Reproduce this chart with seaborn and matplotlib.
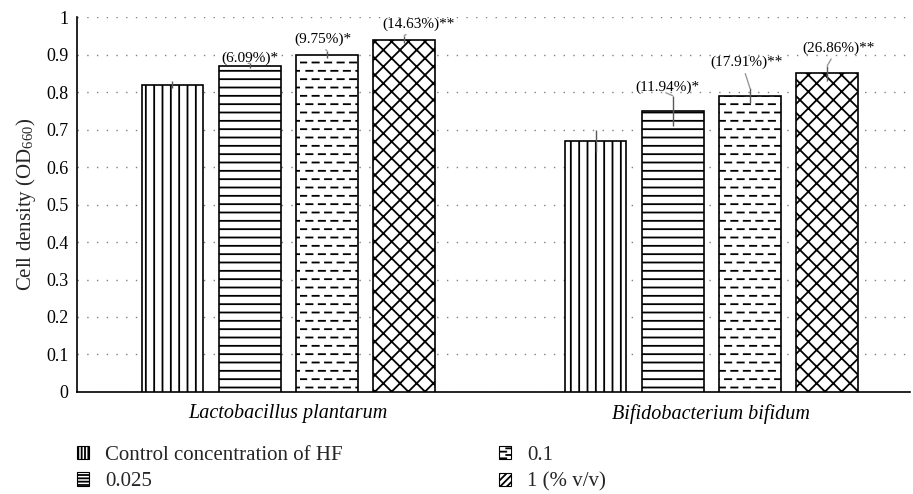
import warnings
warnings.filterwarnings("ignore")
import numpy as np
import pandas as pd
import matplotlib
matplotlib.use("Agg")
import matplotlib.pyplot as plt
from matplotlib import hatch as mhatch
from matplotlib.path import Path
import seaborn as sns

# ---- data ----
species = ["Lactobacillus plantarum", "Bifidobacterium bifidum"]
concentrations = ["Control concentration of HF", "0.025", "0.1", "1 (% v/v)"]
lp_values = [0.82, 0.87, 0.90, 0.94]
bb_values = [0.67, 0.75, 0.79, 0.85]
lp_errors = [0.010, 0.007, 0.010, 0.010]
bb_errors = [0.030, 0.040, 0.020, 0.020]
lp_labels = [None, "(6.09%)*", "(9.75%)*", "(14.63%)**"]
bb_labels = [None, "(11.94%)*", "(17.91%)**", "(26.86%)**"]
y_ticks = [0, 0.1, 0.2, 0.3, 0.4, 0.5, 0.6, 0.7, 0.8, 0.9, 1]
y_ticklabels = ["0", "0.1", "0.2", "0.3", "0.4", "0.5", "0.6", "0.7", "0.8", "0.9", "1"]


# custom dashed-horizontal hatch ('d')
class DashedHorizontalHatch(mhatch.HatchPatternBase):
    def __init__(self, hatch, density):
        self.num_rows = int(hatch.count('d') * density)
        self.per_row = 8
        self.num_vertices = self.num_rows * self.per_row * 2

    def set_vertices_and_codes(self, vertices, codes):
        m = self.per_row
        rows, step = np.linspace(0.0, 1.0, self.num_rows, False, retstep=True)
        rows += step / 2.0
        i = 0
        for r, y in enumerate(rows):
            off = 0.5 * (r % 2)
            for j in range(m):
                x0 = (j + off) / m
                x1 = x0 + 0.5 / m
                vertices[i] = (x0, y)
                vertices[i + 1] = (min(x1, 1.0), y)
                codes[i] = Path.MOVETO
                codes[i + 1] = Path.LINETO
                i += 2


mhatch._hatch_types.append(DashedHorizontalHatch)

sns.set_theme(style="white")
plt.rcParams['font.family'] = ['Liberation Serif', 'DejaVu Serif']
plt.rcParams['mathtext.fontset'] = 'stix'
plt.rcParams['hatch.linewidth'] = 1.3
plt.rcParams['hatch.color'] = 'black'

df = pd.DataFrame({
    "species": [s for s in species for _ in concentrations],
    "conc": concentrations * 2,
    "value": lp_values + bb_values,
    "err": lp_errors + bb_errors,
    "label": lp_labels + bb_labels,
})

fig = plt.figure(figsize=(9.13, 4.94), dpi=100)
ax = fig.add_axes([0.084, 0.2065, 0.913, 0.759])

sns.barplot(data=df, x="species", y="value", hue="conc", order=species,
            hue_order=concentrations, palette=["white"] * 4, edgecolor="black",
            linewidth=1.2, width=0.73, gap=0.2, errorbar=None, ax=ax,
            legend=False, zorder=3)

bar_containers = list(ax.containers)
hatches = ["||", "--", "dd", "xx"]
for cont, h in zip(bar_containers, hatches):
    for p in cont.patches:
        p.set_hatch(h)

# error bars and annotations
label_offsets = {
    "(6.09%)*": (0, 5), "(9.75%)*": (-4, 12), "(14.63%)**": (14, 12),
    "(11.94%)*": (-5, 9), "(17.91%)**": (-3, 26), "(26.86%)**": (11, 18),
}
for ci, cont in enumerate(bar_containers):
    conc = concentrations[ci]
    for si, p in enumerate(cont.patches):
        row = df[(df.species == species[si]) & (df.conc == conc)].iloc[0]
        xc = p.get_x() + p.get_width() / 2
        top = p.get_height()
        ax.errorbar(xc, top, yerr=row.err, color="0.35", lw=1, capsize=0, zorder=4)
        if row.label:
            dx, dy = label_offsets[row.label]
            ax.annotate(row.label, xy=(xc, top + row.err), xytext=(dx, dy),
                        textcoords="offset pixels", ha="center", va="center",
                        fontsize=11, color="black",
                        arrowprops=dict(arrowstyle="-", color="0.6", lw=1,
                                        shrinkA=1, shrinkB=0, relpos=(0.45, 0.1)),
                        zorder=5)

ax.set_ylim(0, 1)
ax.set_xlim(-0.5, 1.47)
ax.set_yticks(y_ticks)
ax.set_yticklabels(y_ticklabels, fontsize=13)
ax.set_xticks(range(len(species)))
ax.set_xticklabels(species, fontsize=14.5, fontstyle="italic")
ax.set_xlabel("")
ax.set_ylabel(r"Cell density (OD$_{\mathregular{660}}$)", fontsize=15, labelpad=6)
ax.tick_params(axis="both", length=0, pad=6, colors="black")
ax.tick_params(axis="x", pad=9)
ax.yaxis.grid(True, color="0.5", linestyle=(0, (1, 6)), linewidth=1)
ax.set_axisbelow(True)
for s in ["top", "right"]:
    ax.spines[s].set_visible(False)
for s in ["left", "bottom"]:
    ax.spines[s].set_color("black")
    ax.spines[s].set_linewidth(1.2)

leg = fig.legend(bar_containers, concentrations, ncol=2, frameon=False,
                 loc="upper left", bbox_to_anchor=(0.075, 0.114),
                 fontsize=15, handlelength=0.6, handleheight=0.6,
                 handletextpad=0.75, columnspacing=7.5, labelspacing=0.35,
                 borderaxespad=0)
legend_hatches = ["|||||", "-----", "ddddd", "/////"]
for h, lh in zip(leg.legend_handles, legend_hatches):
    h.set_linewidth(0.8)
    h.set_hatch(lh)

fig.savefig("out.png", dpi=100)
